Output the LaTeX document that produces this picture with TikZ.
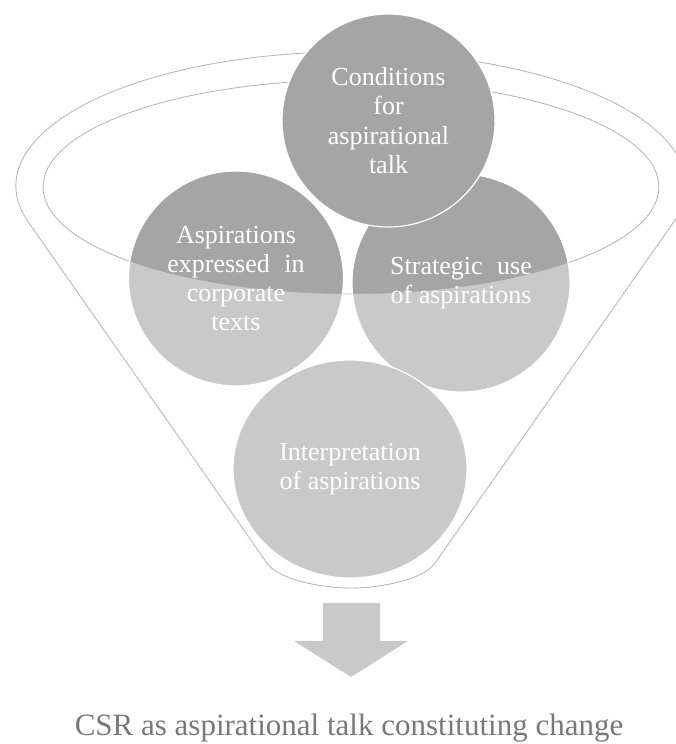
\documentclass[tikz,border=0pt]{standalone}
\usepackage{fontspec}
\setmainfont{Liberation Serif}
\usetikzlibrary{shapes.geometric}
\definecolor{bubblegray}{HTML}{A5A5A5}
\definecolor{rimgray}{HTML}{A6A6A6}
\definecolor{palegray}{HTML}{C9C9C9}
\definecolor{captiongray}{HTML}{787878}

% outline of the funnel: upper rim arc, two sides and the rounded spout
\newcommand\funneloutline{(rimL) arc[start angle=195.64, end angle=-15.64, x radius=335pt, y radius=134pt]
  -- (spoutR) .. controls (422.4,163) and (376,156) .. (spout)
  .. controls (326,156) and (279.6,163) .. (spoutL) -- cycle}

\begin{document}
\begin{tikzpicture}[x=1pt,y=1pt,
  bubble/.style={circle, fill=bubblegray, draw=white, line width=1.2pt,
    inner sep=0pt, text=white, align=center,
    font=\fontsize{26}{29.3}\selectfont},
  rim/.style={draw=rimgray, line width=0.9pt},
  veil/.style={fill=white, fill opacity=0.4, even odd rule},
  blockarrow/.style={fill=palegray}
]
\useasboundingbox (0,0) rectangle (676,744);
\clip (0,0) rectangle (676,744);

% funnel geometry
\coordinate (rimL) at (28.4,522);
\coordinate (rimR) at (673.6,522);
\coordinate (spoutL) at (267,181);
\coordinate (spoutR) at (435,181);
\coordinate (spout) at (351,156);
\coordinate (mouth) at (351,557);

% funnel lines
\path[rim] \funneloutline;
\draw[rim] (mouth) ellipse[x radius=308pt, y radius=107pt];

% bubbles inside the funnel
\node[bubble, minimum size=215pt] (texts) at (236,465.5)
  {Aspirations\\expressed\hspace{0.56em}in\\corporate\\texts};
\node[bubble, minimum size=218pt] (strategic) at (461,461)
  {Strategic\hspace{0.56em}use\\of aspirations};
\node[bubble, ellipse, minimum width=234pt, minimum height=218pt] (interp) at (350,275)
  {Interpretation\\of aspirations};

% translucent funnel body, open at the mouth
\path[veil] \funneloutline (mouth) ellipse[x radius=308pt, y radius=107pt];

% bubble resting on top of the funnel
\node[bubble, minimum size=213pt] (conditions) at (388.5,623.5)
  {Conditions\\for\\aspirational\\talk};

% downward block arrow
\coordinate (shaftTL) at (323,141);
\coordinate (shaftTR) at (380,141);
\coordinate (shaftBR) at (380,103);
\coordinate (headR) at (408,103);
\coordinate (arrowTip) at (351,67);
\coordinate (headL) at (294,103);
\coordinate (shaftBL) at (323,103);
\fill[blockarrow] (shaftTL) -- (shaftTR) -- (shaftBR) -- (headR) -- (arrowTip)
  -- (headL) -- (shaftBL) -- cycle;

% outcome
\node[anchor=base, inner sep=0pt, text=captiongray,
  font=\fontsize{31}{36}\selectfont] (outcome) at (349,8.5)
  {CSR as aspirational talk constituting change};
\end{tikzpicture}
\end{document}
